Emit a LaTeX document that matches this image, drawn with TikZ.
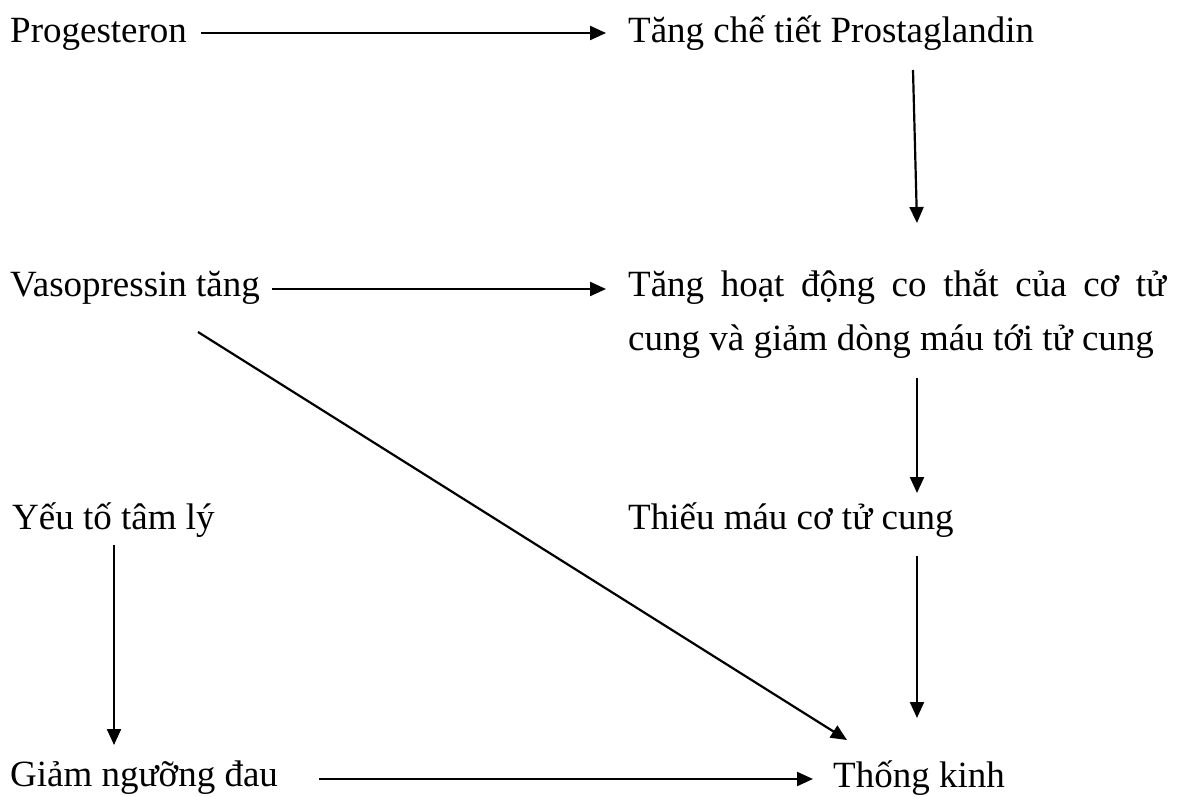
\documentclass[tikz,border=0pt]{standalone}
\usepackage{fontspec}
\setmainfont{Liberation Serif}
\usepackage{tikz}
\usetikzlibrary{positioning}
\usetikzlibrary{calc}
\usetikzlibrary{arrows.meta}

\begin{document}
\begin{tikzpicture}[x=1pt,y=-1pt,
    txt/.style={anchor=base west, inner sep=0pt, font=\fontsize{37}{54}\selectfont},
    arr/.style={line width=2.2pt, -{Triangle[length=16pt,width=14pt]}}]

    \useasboundingbox (0,0) rectangle (1184,796);

    \node[txt] (prog) at (10,42) {Progesteron};
    \node[txt] (pros) at (628,42) {Tăng chế tiết Prostaglandin};
    \node[txt] (vaso) at (10,296) {Vasopressin tăng};
    \node[txt] (cothat) at (628,296) {\parbox[t]{538pt}{\makebox[538pt][s]{Tăng hoạt động co thắt của cơ tử}\\cung và giảm dòng máu tới tử cung}};
    \node[txt] (yeuto) at (12,529) {Yếu tố tâm lý};
    \node[txt] (thieu) at (628,529) {Thiếu máu cơ tử cung};
    \node[txt] (giam) at (10,786) {Giảm ngưỡng đau};
    \node[txt] (thong) at (833,787) {Thống kinh};

    \draw[arr] ($(prog.base east)+(14,-9)$) -- ($(pros.base west)+(-22,-9)$);
    \draw[arr] ($(pros.base west)+(285,28)$) -- ($(cothat.base west)+(289,-73)$);
    \draw[arr] ($(vaso.base east)+(12,-7)$) -- ($(cothat.base west)+(-22,-7)$);
    \draw[arr] ($(cothat.base west)+(289,82)$) -- ($(thieu.base west)+(289,-36)$);
    \draw[arr] ($(vaso.base west)+(188,36)$) -- ($(thong.base west)+(14,-47)$);
    \draw[arr] ($(thieu.base west)+(289,27)$) -- ($(thong.base west)+(84,-69)$);
    \draw[arr] ($(yeuto.base west)+(102,16)$) -- ($(giam.base west)+(104,-41)$);
    \draw[arr] ($(giam.base east)+(41,-7)$) -- ($(thong.base west)+(-20,-8)$);
\end{tikzpicture}
\end{document}
